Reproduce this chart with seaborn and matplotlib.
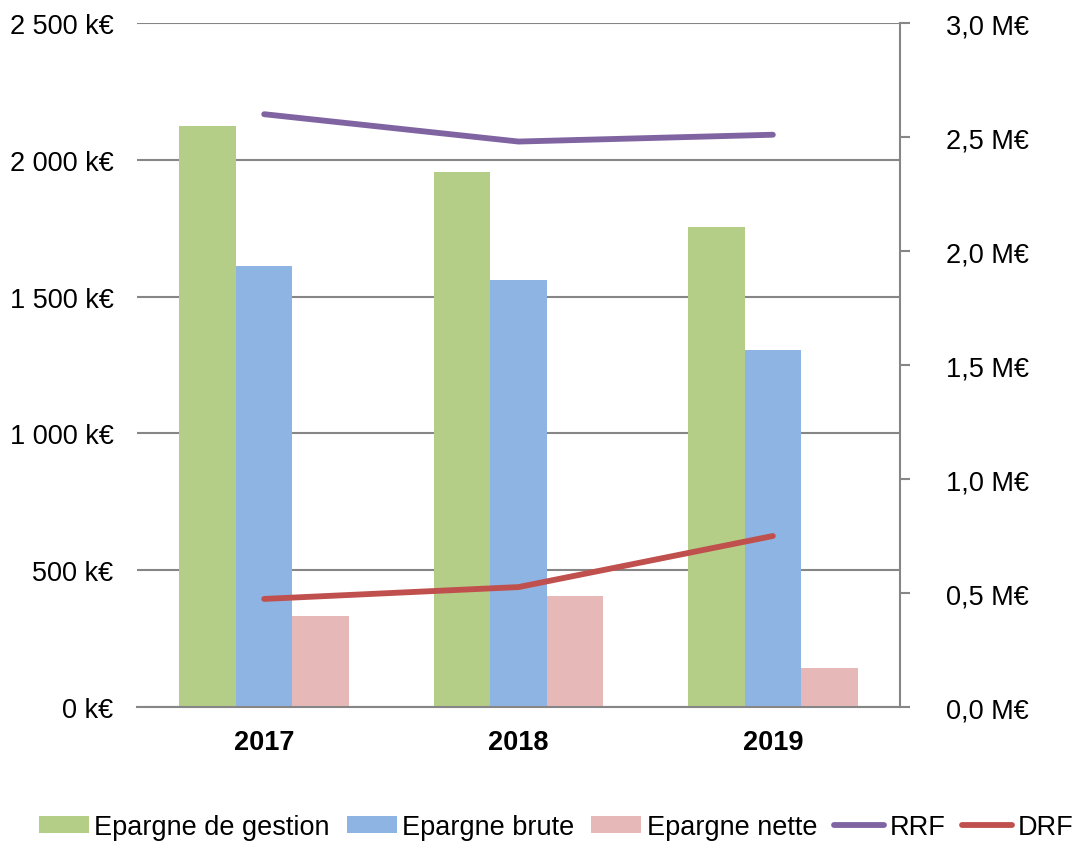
import pandas as pd
import matplotlib
matplotlib.use("Agg")
import matplotlib.pyplot as plt
import seaborn as sns
from matplotlib.patches import Patch
from matplotlib.lines import Line2D

annees = ["2017", "2018", "2019"]
series_barres = ["Epargne de gestion", "Epargne brute", "Epargne nette"]
epargne_gestion = [2124, 1955, 1754]   # k€
epargne_brute = [1612, 1561, 1305]     # k€
epargne_nette = [333, 406, 143]        # k€
rrf = [2.60, 2.48, 2.51]               # M€
drf = [0.474, 0.526, 0.75]             # M€

couleurs_barres = ["#B5CE87", "#8EB4E3", "#E6B9B8"]
couleurs_lignes = ["#8064A2", "#C0504D"]
gris = "#868686"

df_barres = pd.DataFrame({
    "annee": annees * 3,
    "serie": [s for s in series_barres for _ in annees],
    "valeur": epargne_gestion + epargne_brute + epargne_nette,
})
df_lignes = pd.DataFrame({
    "annee": annees * 2,
    "serie": ["RRF"] * 3 + ["DRF"] * 3,
    "valeur": rrf + drf,
})

sns.set_style("white")
plt.rcParams["font.family"] = ["Liberation Sans", "DejaVu Sans"]
plt.rcParams["text.color"] = "black"
plt.rcParams["xtick.color"] = "black"
plt.rcParams["ytick.color"] = "black"
fs = 19.5

fig = plt.figure(figsize=(10.8, 8.45), dpi=100)
ax = fig.add_axes([137 / 1080, 1 - 708 / 845, (900 - 137) / 1080, (708 - 24) / 845])

sns.barplot(data=df_barres, x="annee", y="valeur", hue="serie",
            palette=couleurs_barres, width=0.667, gap=0, linewidth=0,
            saturation=1, ax=ax, legend=False, zorder=2)
ax.set_xlim(-0.5, 2.5)
ax.set_ylim(0, 2500)
ax.set_yticks([0, 500, 1000, 1500, 2000, 2500])
ax.set_yticklabels([f"{v:,}".replace(",", " ") + " k€" for v in [0, 500, 1000, 1500, 2000, 2500]])
ax.yaxis.grid(True, color=gris, linewidth=1.5, zorder=0)
ax.set_axisbelow(True)
ax.set_xlabel("")
ax.set_ylabel("")
for s in ["left", "top", "right"]:
    ax.spines[s].set_visible(False)
ax.spines["bottom"].set_color(gris)
ax.spines["bottom"].set_linewidth(1.5)
ax.tick_params(axis="y", length=0, pad=17, labelsize=fs, labelcolor="black")
ax.tick_params(axis="x", length=0, pad=16, labelsize=fs, labelcolor="black")
for t in ax.get_xticklabels():
    t.set_fontweight("bold")

ax2 = ax.twinx()
sns.pointplot(data=df_lignes, x="annee", y="valeur", hue="serie",
              palette=couleurs_lignes, markers="", errorbar=None,
              ax=ax2, legend=False, lw=4.2)
ax2.set_xlim(-0.5, 2.5)
ax2.set_ylim(0, 3.0)
ax2.set_yticks([0, 0.5, 1.0, 1.5, 2.0, 2.5, 3.0])
ax2.set_yticklabels([f"{v:.1f}".replace(".", ",") + " M€" for v in [0, 0.5, 1.0, 1.5, 2.0, 2.5, 3.0]])
ax2.set_ylabel("")
ax2.set_xlabel("")
for s in ["left", "top", "bottom"]:
    ax2.spines[s].set_visible(False)
ax2.spines["right"].set_color(gris)
ax2.spines["right"].set_linewidth(1.5)
ax2.tick_params(axis="y", length=7, width=1.5, color=gris, pad=26, labelsize=fs,
                labelcolor="black")

handles = [Patch(facecolor=c, edgecolor="none") for c in couleurs_barres]
handles += [Line2D([0], [0], color=c, lw=4.2, solid_capstyle="round") for c in couleurs_lignes]
labels = series_barres + ["RRF", "DRF"]
fig.legend(handles, labels, loc="center", bbox_to_anchor=(0.515, 1 - 828 / 845),
           ncol=5, frameon=False, fontsize=fs, handlelength=1.85, handleheight=0.55,
           handletextpad=0.2, columnspacing=0.62, borderaxespad=0, borderpad=0)

fig.savefig("out.png", dpi=100)
